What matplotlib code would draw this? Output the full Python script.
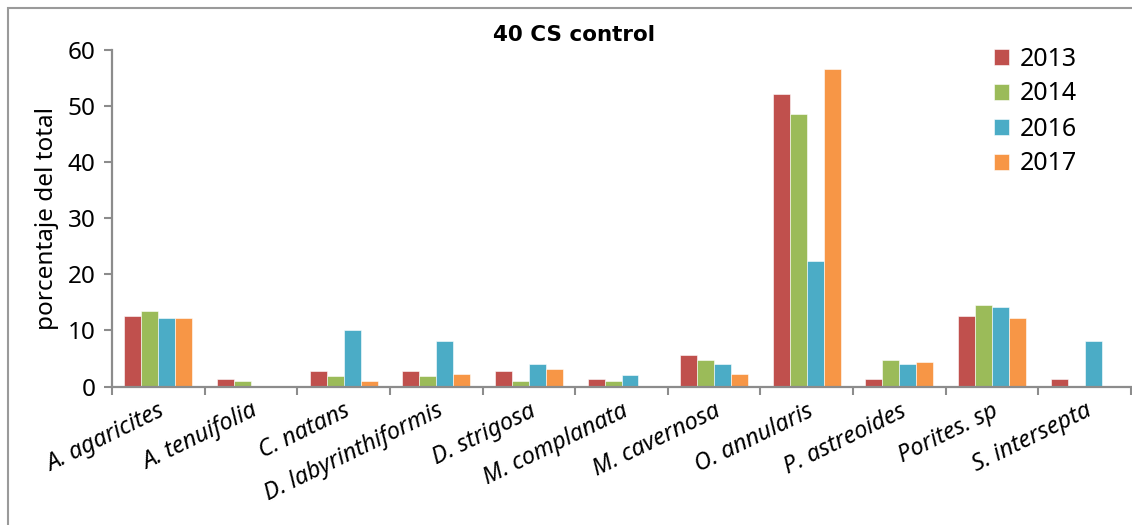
import matplotlib
matplotlib.use("Agg")
import matplotlib.pyplot as plt
import numpy as np
from matplotlib.patches import Rectangle

plt.rcParams['font.family'] = ['Noto Sans', 'DejaVu Sans']

species = ["A. agaricites", "A. tenuifolia", "C. natans", "D. labyrinthiformis",
           "D. strigosa", "M. complanata", "M. cavernosa", "O. annularis",
           "P. astreoides", "Porites. sp", "S. intersepta"]
years = ["2013", "2014", "2016", "2017"]

pct_2013 = [12.6, 1.3, 2.8, 2.8, 2.8, 1.3, 5.6, 52.2, 1.3, 12.6, 1.3]
pct_2014 = [13.5, 0.9, 1.9, 1.9, 0.9, 0.9, 4.7, 48.5, 4.7, 14.5, 0.0]
pct_2016 = [12.2, 0.0, 10.1, 8.1, 4.0, 2.0, 4.0, 22.4, 4.0, 14.2, 8.1]
pct_2017 = [12.2, 0.0, 1.0, 2.2, 3.2, 0.0, 2.2, 56.6, 4.4, 12.2, 0.0]

series = [pct_2013, pct_2014, pct_2016, pct_2017]
colors = ["#C0504D", "#9BBB59", "#4BACC6", "#F79646"]

W, H = 1132, 525
fig = plt.figure(figsize=(W / 100, H / 100), dpi=100)
ax = fig.add_axes([112 / W, 1 - 386.5 / H, (1131 - 112) / W, (386.5 - 50) / H])

x = np.arange(len(species))
bw = 0.1835
for i, (vals, col, yr) in enumerate(zip(series, colors, years)):
    ax.bar(x + (i - 1.5) * bw, vals, width=bw, color=col, label=yr,
           edgecolor="white", linewidth=0.4)

ax.set_xlim(-0.5, len(species) - 0.5)
ax.set_ylim(0, 60)
ax.set_yticks(np.arange(0, 61, 10))

# category boundaries carry the tick marks, labels sit at the centers
ax.set_xticks(np.arange(-0.5, len(species) + 0.5, 1.0))
ax.set_xticklabels([])
ax.set_xticks(x, minor=True)
ax.set_xticklabels(species, minor=True, rotation=26, ha="right",
                   rotation_mode="anchor", fontstyle="italic", fontsize=17)
ax.tick_params(axis="x", which="minor", length=0, pad=9)
ax.tick_params(axis="x", which="major", length=6, width=1.5, color="#8c8c8c")
ax.tick_params(axis="y", length=6, width=1.5, color="#8c8c8c", labelsize=17.5, pad=6)

for s in ["top", "right"]:
    ax.spines[s].set_visible(False)
for s in ["left", "bottom"]:
    ax.spines[s].set_color("#8c8c8c")
    ax.spines[s].set_linewidth(1.6)

ax.set_ylabel("porcentaje del total", fontsize=17.5, labelpad=6)

fig.text(574 / W, 1 - 35 / H, "40 CS control", ha="center", va="center",
         fontsize=15.5, fontweight="bold", family="DejaVu Sans")

leg = ax.legend(loc="upper left", bbox_to_anchor=(982 / W, 1 - 34 / H),
                bbox_transform=fig.transFigure, frameon=False, fontsize=18,
                handlelength=0.6, handleheight=0.6, handletextpad=0.4,
                labelspacing=0.4, borderpad=0)

# outer chart frame
fig.patches.append(Rectangle((8 / W, -0.05), 1.1, 1 - 7.5 / H + 0.05,
                             transform=fig.transFigure, fill=False,
                             edgecolor="#9a9a9a", linewidth=1.5))

fig.savefig("out.png", dpi=100)
